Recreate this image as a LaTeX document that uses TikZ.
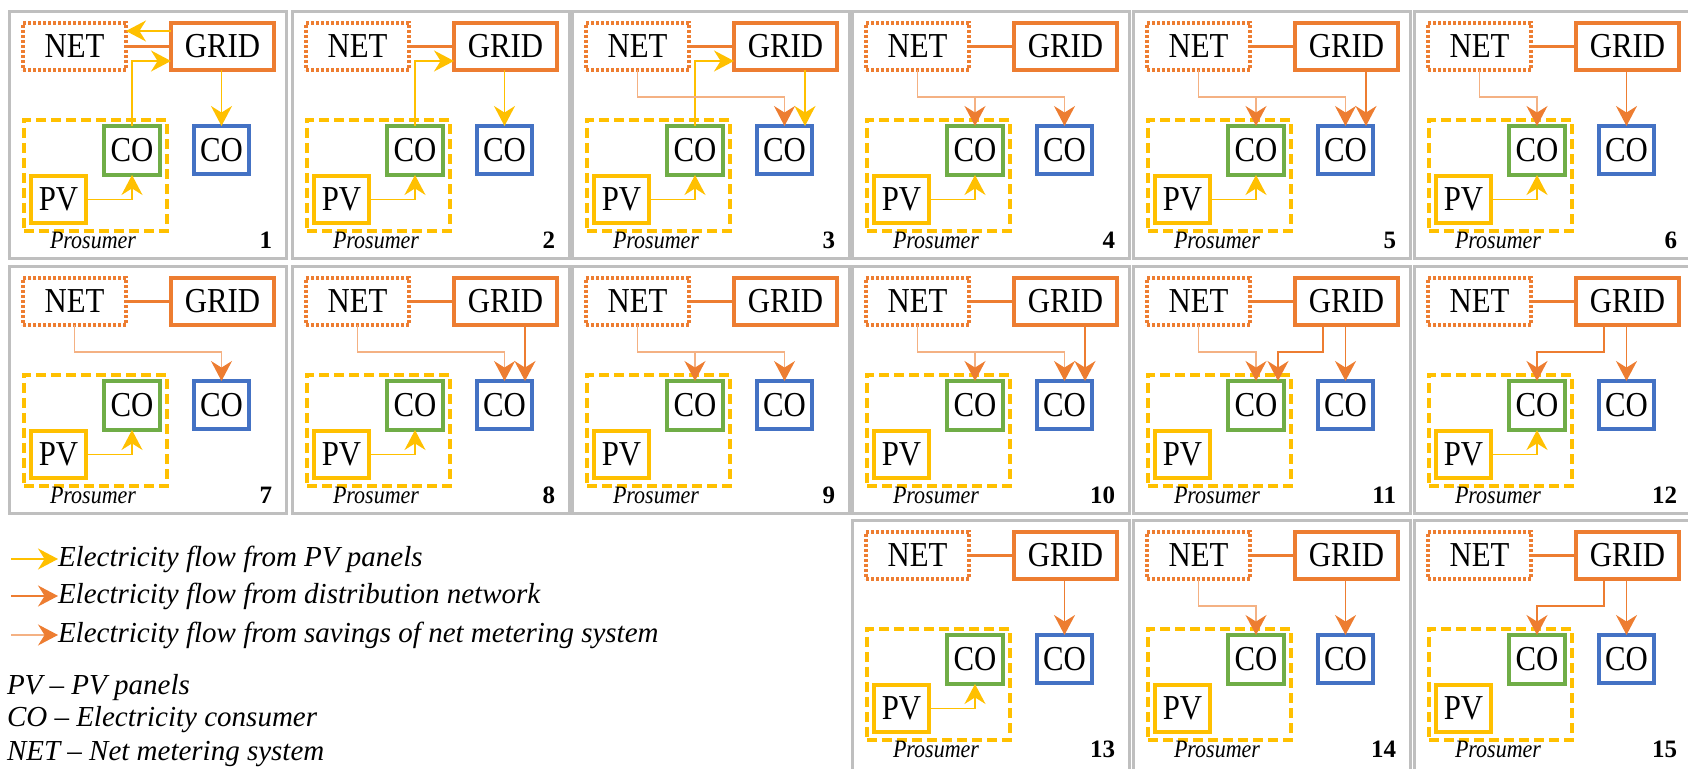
\documentclass[tikz,border=0pt]{standalone}
\usepackage{graphicx}
\usepackage{fontspec}
\setmainfont{Liberation Serif}
\usetikzlibrary{arrows.meta}

\definecolor{gridor}{HTML}{ED7D31}
\definecolor{pvyel}{HTML}{FFC000}
\definecolor{cogreen}{HTML}{70AD47}
\definecolor{coblue}{HTML}{4472C4}
\definecolor{framegray}{HTML}{BFBFBF}
\definecolor{savpeach}{HTML}{F4B183}

% slightly condensed lettering used inside the panels
\newcommand\sqz[1]{\scalebox{0.88}[1]{#1}}
\newcommand\boxfont{\fontsize{17.5}{17.5}\selectfont}
\newcommand\smallfont{\fontsize{12.5}{12.5}\selectfont}
\newcommand\legfont{\fontsize{14.5}{14.5}\selectfont\itshape}

\tikzset{
  every node/.style={inner sep=0pt, outer sep=0pt},
  flowhead/.style={-{Stealth[length=10pt,width=10.5pt,inset=3.3pt,#1]}},
  flowhead/.default={},
  frame/.style={draw=framegray, line width=1.5pt, anchor=north west, minimum width=138.5pt},
  netbox/.style={draw=gridor, line width=1.6pt, dash pattern=on 1.3pt off 1.2pt,
    minimum width=51.5pt, minimum height=23.5pt, font=\boxfont},
  gridbox/.style={draw=gridor, line width=1.8pt, minimum width=51.5pt, minimum height=23.5pt, font=\boxfont},
  cogbox/.style={draw=cogreen, line width=1.6pt, minimum width=28pt, minimum height=24.5pt, font=\boxfont},
  cobbox/.style={draw=coblue, line width=1.6pt, minimum width=27.5pt, minimum height=24pt, font=\boxfont},
  pvbox/.style={draw=pvyel, line width=1.7pt, minimum width=27.5pt, minimum height=23.5pt, font=\boxfont},
  probox/.style={draw=pvyel, line width=1.7pt, dash pattern=on 5pt off 2.5pt,
    minimum width=71.5pt, minimum height=55.5pt},
  prolabel/.style={font=\smallfont\itshape, anchor=base},
  numlabel/.style={font=\smallfont\bfseries, anchor=base east},
  link/.style={draw=gridor, line width=1.3pt},
  pvflow/.style={draw=pvyel, line width=0.85pt, flowhead},
  gridflow/.style={draw=gridor, line width=0.85pt, flowhead},
  savflow/.style={draw=savpeach, line width=0.6pt, flowhead={color=gridor}},
  legtext/.style={font=\legfont, anchor=west},
}

% one scenario panel: #1 name prefix, #2 number, #3 #4 top-left corner, #5 frame height
\newcommand\drawpanel[5]{%
  \begin{scope}[shift={(#3,#4)}]
    \node[frame, minimum height=#5] (#1-fr) at (0,0) {};
    \node[netbox]  (#1-net)  at (65.5,34.5) {\sqz{NET}};
    \node[gridbox] (#1-grid) at (213.5,34.5) {\sqz{GRID}};
    \node[probox]  (#1-pro)  at (86.5,163.5) {};
    \node[cogbox]  (#1-co)   at (123,138.5) {\sqz{CO}};
    \node[cobbox]  (#1-cb)   at (212.5,138) {\sqz{CO}};
    \node[pvbox]   (#1-pv)   at (49.5,187.5) {\sqz{PV}};
    \node[prolabel] (#1-lab) at (84,237) {\sqz{Prosumer}};
    \node[numlabel] (#1-num) at (263,237) {#2};
    \coordinate (#1-hy)  at (0,85);
    \coordinate (#1-hi)  at (0,19);
    \coordinate (#1-lo)  at (0,49);
    \coordinate (#1-cbr) at (233,0);
    \coordinate (#1-cor) at (145,0);
    \coordinate (#1-gx)  at (190,0);
    \draw[link] (#1-net) -- (#1-grid);
  \end{scope}}

\begin{document}
\begin{tikzpicture}[x=0.5pt, y=-0.5pt]
  \useasboundingbox (0,0) rectangle (1688,769);

  % row 1
  \drawpanel{p1}{1}{9}{12}{123.5pt}
  \drawpanel{p2}{2}{292}{12}{123.5pt}
  \drawpanel{p3}{3}{572}{12}{123.5pt}
  \drawpanel{p4}{4}{852}{12}{123.5pt}
  \drawpanel{p5}{5}{1133}{12}{123.5pt}
  \drawpanel{p6}{6}{1414}{12}{123.5pt}
  % row 2
  \drawpanel{p7}{7}{9}{267}{123.5pt}
  \drawpanel{p8}{8}{292}{267}{123.5pt}
  \drawpanel{p9}{9}{572}{267}{123.5pt}
  \drawpanel{p10}{10}{852}{267}{123.5pt}
  \drawpanel{p11}{11}{1133}{267}{123.5pt}
  \drawpanel{p12}{12}{1414}{267}{123.5pt}
  % row 3
  \drawpanel{p13}{13}{852}{521}{130pt}
  \drawpanel{p14}{14}{1133}{521}{130pt}
  \drawpanel{p15}{15}{1414}{521}{130pt}

  % 1: surplus exported, stored in net metering
  \draw[pvflow] (p1-grid.west |- p1-hi) -- (p1-net.east |- p1-hi);
  \draw[pvflow] (p1-co.north) |- (p1-grid.west |- p1-lo);
  \draw[pvflow] (p1-cb.north |- p1-grid.south) -- (p1-cb.north);
  \draw[pvflow] (p1-pv.east) -| (p1-co.south);
  % 2
  \draw[pvflow] (p2-co.north) |- (p2-grid.west |- p2-lo);
  \draw[pvflow] (p2-cb.north |- p2-grid.south) -- (p2-cb.north);
  \draw[pvflow] (p2-pv.east) -| (p2-co.south);
  % 3
  \draw[pvflow] (p3-co.north) |- (p3-grid.west |- p3-lo);
  \draw[savflow] (p3-net.south) |- (p3-cb.north |- p3-hy) -- (p3-cb.north);
  \draw[pvflow] (p3-cbr |- p3-grid.south) -- (p3-cbr |- p3-cb.north);
  \draw[pvflow] (p3-pv.east) -| (p3-co.south);
  % 4
  \draw[savflow] (p4-net.south) |- (p4-co.north |- p4-hy) -- (p4-co.north);
  \draw[savflow] (p4-net.south) |- (p4-cb.north |- p4-hy) -- (p4-cb.north);
  \draw[pvflow] (p4-pv.east) -| (p4-co.south);
  % 5
  \draw[savflow] (p5-net.south) |- (p5-co.north |- p5-hy) -- (p5-co.north);
  \draw[savflow] (p5-net.south) |- (p5-cb.north |- p5-hy) -- (p5-cb.north);
  \draw[gridflow] (p5-cbr |- p5-grid.south) -- (p5-cbr |- p5-cb.north);
  \draw[pvflow] (p5-pv.east) -| (p5-co.south);
  % 6
  \draw[savflow] (p6-net.south) |- (p6-co.north |- p6-hy) -- (p6-co.north);
  \draw[gridflow] (p6-cb.north |- p6-grid.south) -- (p6-cb.north);
  \draw[pvflow] (p6-pv.east) -| (p6-co.south);
  % 7
  \draw[savflow] (p7-net.south) |- (p7-cb.north |- p7-hy) -- (p7-cb.north);
  \draw[pvflow] (p7-pv.east) -| (p7-co.south);
  % 8
  \draw[savflow] (p8-net.south) |- (p8-cb.north |- p8-hy) -- (p8-cb.north);
  \draw[gridflow] (p8-cbr |- p8-grid.south) -- (p8-cbr |- p8-cb.north);
  \draw[pvflow] (p8-pv.east) -| (p8-co.south);
  % 9
  \draw[savflow] (p9-net.south) |- (p9-co.north |- p9-hy) -- (p9-co.north);
  \draw[savflow] (p9-net.south) |- (p9-cb.north |- p9-hy) -- (p9-cb.north);
  % 10
  \draw[savflow] (p10-net.south) |- (p10-co.north |- p10-hy) -- (p10-co.north);
  \draw[savflow] (p10-net.south) |- (p10-cb.north |- p10-hy) -- (p10-cb.north);
  \draw[gridflow] (p10-cbr |- p10-grid.south) -- (p10-cbr |- p10-cb.north);
  % 11
  \draw[savflow] (p11-net.south) |- (p11-co.north |- p11-hy) -- (p11-co.north);
  \draw[gridflow] (p11-gx |- p11-grid.south) |- (p11-cor |- p11-hy) -- (p11-cor |- p11-co.north);
  \draw[gridflow] (p11-cb.north |- p11-grid.south) -- (p11-cb.north);
  % 12
  \draw[gridflow] (p12-gx |- p12-grid.south) |- (p12-co.north |- p12-hy) -- (p12-co.north);
  \draw[gridflow] (p12-cb.north |- p12-grid.south) -- (p12-cb.north);
  \draw[pvflow] (p12-pv.east) -| (p12-co.south);
  % 13
  \draw[gridflow] (p13-cb.north |- p13-grid.south) -- (p13-cb.north);
  \draw[pvflow] (p13-pv.east) -| (p13-co.south);
  % 14
  \draw[savflow] (p14-net.south) |- (p14-co.north |- p14-hy) -- (p14-co.north);
  \draw[gridflow] (p14-cb.north |- p14-grid.south) -- (p14-cb.north);
  % 15
  \draw[gridflow] (p15-gx |- p15-grid.south) |- (p15-co.north |- p15-hy) -- (p15-co.north);
  \draw[gridflow] (p15-cb.north |- p15-grid.south) -- (p15-cb.north);

  % legend
  \coordinate (lgA) at (11,559);
  \coordinate (lgB) at (11,596);
  \coordinate (lgC) at (11,635);
  \node[legtext] (lgAt) at (58,559) {Electricity flow from PV panels};
  \node[legtext] (lgBt) at (58,596) {Electricity flow from distribution network};
  \node[legtext] (lgCt) at (58,635) {Electricity flow from savings of net metering system};
  \draw[pvflow] (lgA) -- (lgAt.west);
  \draw[gridflow] (lgB) -- (lgBt.west);
  \draw[savflow] (lgC) -- (lgCt.west);
  \node[legtext] (abPV)  at (7,688) {PV – PV panels};
  \node[legtext] (abCO)  at (7,720) {CO – Electricity consumer};
  \node[legtext] (abNET) at (7,754) {NET – Net metering system};
\end{tikzpicture}
\end{document}
